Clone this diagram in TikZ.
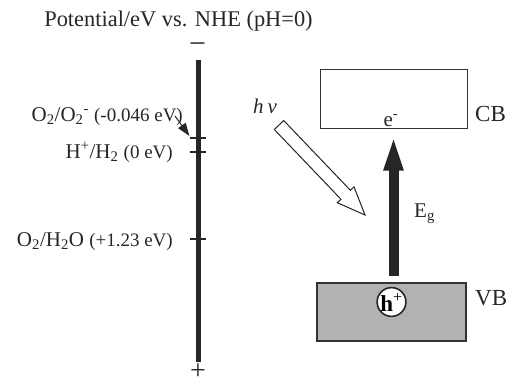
\documentclass[tikz,border=0pt]{standalone}
\usepackage{fontspec}
\setmainfont{Liberation Serif}
\usetikzlibrary{arrows.meta}
\begin{document}
\begin{tikzpicture}[x=1pt,y=-1pt,
  txt/.style={inner sep=0pt, font=\fontsize{21}{24}\selectfont, text=black!85},
  axisline/.style={line width=5.3pt, draw=black!85},
  tickline/.style={line width=1.8pt, draw=black!85},
  band/.style={draw=black!80, minimum height=58pt, inner sep=0pt},
  pointer/.style={line width=1pt, draw=black!85, -{Triangle[length=13pt,width=9pt]}},
  gaparrow/.style={line width=10pt, draw=black!85, -{Triangle[length=37pt,width=17pt]}, shorten <=6pt, shorten >=5pt},
  openarrow/.style={line width=1pt, draw=black!85, fill=white}]
\useasboundingbox (0,0) rectangle (518,385);

% title
\node[txt, anchor=base, font=\fontsize{22.4}{26}\selectfont] (title) at (178.5,27) {Potential/eV vs. NHE (pH=0)};

% potential axis
\coordinate (atop) at (198.7,60);
\coordinate (abot) at (198.7,362);
\draw[axisline] (atop) -- (abot);
\node[txt, anchor=base, font=\fontsize{30}{34}\selectfont] (minus) at (197.5,54) {−};
\node[txt, anchor=base, font=\fontsize{28}{32}\selectfont] (plus) at (198,379) {+};

\coordinate (t1) at (198.7,138.3);
\coordinate (t2) at (198.7,151.7);
\coordinate (t3) at (198.7,239);
\draw[tickline] ([xshift=-8.5pt]t1) -- ([xshift=7pt]t1);
\draw[tickline] ([xshift=-8.5pt]t2) -- ([xshift=7pt]t2);
\draw[tickline] ([xshift=-8.5pt]t3) -- ([xshift=7pt]t3);

% labels
\node[txt, anchor=base east] (l1) at (183,121.5) {O\textsubscript{2}/O\textsubscript{2}\textsuperscript{-} {\fontsize{19}{22}\selectfont(-0.046 eV)}};
\node[txt, anchor=base east] (l2) at (173,158) {H\textsuperscript{+}/H\textsubscript{2} {\fontsize{19}{22}\selectfont(0 eV)}};
\node[txt, anchor=base east] (l3) at (173,246) {O\textsubscript{2}/H\textsubscript{2}O {\fontsize{19}{22}\selectfont(+1.23 eV)}};

\coordinate (a1) at (175,116);
\coordinate (a2) at (189.5,136);
\draw[pointer] (a1) -- (a2);

% bands
\node[band, line width=1pt, minimum width=147pt] (cb) at (393.5,99) {};
\node[band, line width=1.6pt, fill=black!30, minimum width=149pt] (vb) at (391.5,312) {};
\node[circle, draw=black!85, fill=white, line width=1.6pt, minimum size=28pt, inner sep=0pt,
      font=\fontsize{23}{26}\selectfont] (hole) at (391.5,302) {\textbf{h}\textsuperscript{+}};

\node[txt, anchor=base] (elec) at (391,126) {e\textsuperscript{-}};
\node[txt, anchor=base west, font=\fontsize{23}{26}\selectfont] (cbl) at (475,121) {CB};
\node[txt, anchor=base west, font=\fontsize{23}{26}\selectfont] (vbl) at (475,305) {VB};

% band-gap excitation
\draw[gaparrow] (cb.south |- vb.north) -- (cb.south);
\node[txt, anchor=base west] (eg) at (414,217) {E\textsubscript{g}};

% photon
\node[txt, anchor=base west, font=\fontsize{21}{24}\selectfont\itshape] (hv) at (253,113) {h\hspace{4pt}ν};
\coordinate (ph) at (279,125);
\begin{scope}[shift={(ph)}, rotate=-46.3]
  \draw[openarrow] (0,-6.5) -- (96.5,-6.5) -- (96.5,-11.5) -- (124.5,0) -- (96.5,11.5) -- (96.5,6.5) -- (0,6.5) -- cycle;
\end{scope}
\end{tikzpicture}
\end{document}
